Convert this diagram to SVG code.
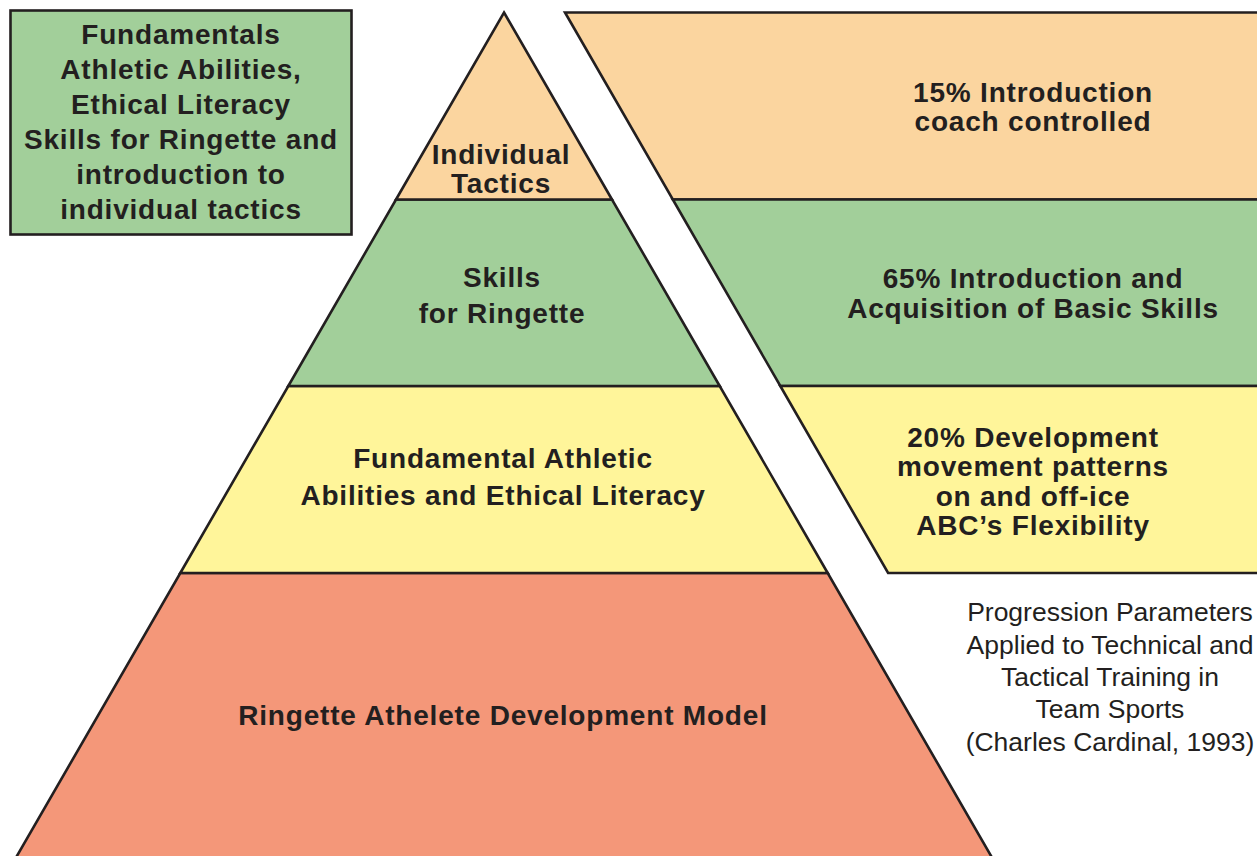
<svg xmlns="http://www.w3.org/2000/svg" width="1257" height="856" viewBox="0 0 1257 856">
<style>
.band{stroke:#231f20;stroke-width:2.6;stroke-linejoin:miter}
.orange{fill:#fbd59f}
.green{fill:#a2cf9a}
.yellow{fill:#fff59a}
.salmon{fill:#f49779}
.lbl{font-family:"Liberation Sans",Arial,Helvetica,sans-serif;font-weight:bold;font-size:28px;letter-spacing:0.8px;fill:#231f20;text-anchor:middle}
.cap{font-family:"Liberation Sans",Arial,Helvetica,sans-serif;font-size:26.5px;fill:#231f20;text-anchor:middle}
</style>
<rect width="1257" height="856" fill="#ffffff"/>
<g id="legend-box">
<rect x="10.5" y="10.5" width="341" height="224" class="band green"/>
<text class="lbl"><tspan x="181" y="44">Fundamentals</tspan><tspan x="181" y="79">Athletic Abilities,</tspan><tspan x="181" y="114">Ethical Literacy</tspan><tspan x="181" y="149">Skills for Ringette and</tspan><tspan x="181" y="184">introduction to</tspan><tspan x="181" y="219">individual tactics</tspan></text>
</g>
<g id="pyramid-base">
<polygon points="180.3,573 827.7,573 993.4,860 14.6,860" class="band salmon"/>
<text class="lbl" x="503" y="725">Ringette Athelete Development Model</text>
</g>
<g id="pyramid-fundamental">
<polygon points="288.3,386 719.7,386 827.7,573 180.3,573" class="band yellow"/>
<text class="lbl"><tspan x="503" y="468">Fundamental Athletic</tspan><tspan x="503" y="505">Abilities and Ethical Literacy</tspan></text>
</g>
<g id="pyramid-skills">
<polygon points="396,199.5 612,199.5 719.7,386 288.3,386" class="band green"/>
<text class="lbl"><tspan x="502" y="287">Skills</tspan><tspan x="502" y="323">for Ringette</tspan></text>
</g>
<g id="pyramid-tactics">
<polygon points="504,12.5 612,199.5 396,199.5" class="band orange"/>
<text class="lbl"><tspan x="501" y="164">Individual</tspan><tspan x="501" y="193">Tactics</tspan></text>
</g>
<g id="param-15">
<polygon points="565,12.5 1262,12.5 1262,199.5 672.8,199.5" class="band orange"/>
<text class="lbl"><tspan x="1033" y="102">15% Introduction</tspan><tspan x="1033" y="131">coach controlled</tspan></text>
</g>
<g id="param-65">
<polygon points="672.8,199.5 1262,199.5 1262,386 780.3,386" class="band green"/>
<text class="lbl"><tspan x="1033" y="288">65% Introduction and</tspan><tspan x="1033" y="318">Acquisition of Basic Skills</tspan></text>
</g>
<g id="param-20">
<polygon points="780.3,386 1262,386 1262,573 888.1,573" class="band yellow"/>
<text class="lbl"><tspan x="1033" y="447">20% Development</tspan><tspan x="1033" y="476">movement patterns</tspan><tspan x="1033" y="506">on and off-ice</tspan><tspan x="1033" y="535">ABC’s Flexibility</tspan></text>
</g>
<g id="caption">
<text class="cap"><tspan x="1110" y="621">Progression Parameters</tspan><tspan x="1110" y="654">Applied to Technical and</tspan><tspan x="1110" y="686">Tactical Training in</tspan><tspan x="1110" y="718">Team Sports</tspan><tspan x="1110" y="751">(Charles Cardinal, 1993)</tspan></text>
</g>
<g id="connectors"></g>
</svg>
